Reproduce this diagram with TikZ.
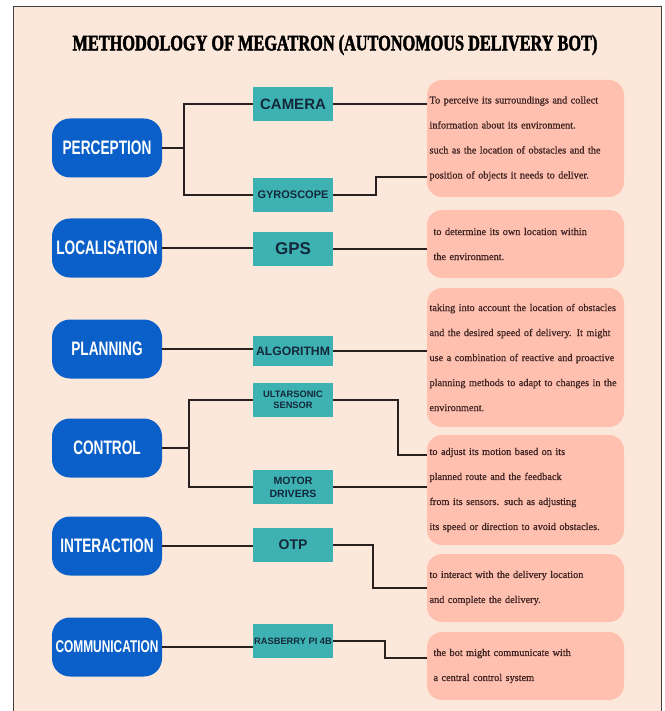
\documentclass[tikz,border=0pt]{standalone}
\usepackage{fontspec}
\setmainfont{Liberation Serif}
\newfontfamily\headfont[FakeStretch=0.74,FakeBold=2]{Liberation Serif}
\newfontfamily\notefont[FakeBold=0.6]{Liberation Serif}
\newfontfamily\stagefont[FakeStretch=0.7]{Liberation Sans}
\newfontfamily\partfont{Liberation Sans}
\usetikzlibrary{positioning}
\definecolor{peach}{HTML}{FCE8DA}
\definecolor{stageblue}{HTML}{0A60C8}
\definecolor{partteal}{HTML}{3EB2B2}
\definecolor{partink}{HTML}{13283A}
\definecolor{notepink}{HTML}{FFC0AF}
\definecolor{noteink}{HTML}{3D2222}
\definecolor{linkink}{HTML}{2A2020}
\tikzset{
  stage/.style={rectangle, rounded corners=18pt, fill=stageblue, text=white,
    minimum width=110pt, minimum height=59pt, inner sep=2pt,
    font=\stagefont\bfseries\fontsize{19.5}{19.5}\selectfont},
  part/.style={rectangle, fill=partteal, text=partink, minimum width=80pt,
    minimum height=34pt, inner sep=1pt, align=center, font=\partfont\bfseries},
  note/.style={rectangle, rounded corners=15pt, fill=notepink, text=noteink,
    text width=192pt, inner xsep=2.5pt, align=left,
    font=\notefont\fontsize{10.3}{25}\selectfont},
  link/.style={draw=linkink, line width=2pt}
}
\begin{document}
\begin{tikzpicture}[x=1pt,y=-1pt]
\useasboundingbox (0,0) rectangle (664,711);
\fill[white] (0,0) rectangle (664,711);
\fill[peach] (13,7) rectangle (661,711);
\draw[black!75, line width=1pt] (13,711) -- (13,7) -- (661,7) -- (661,711);

\node[font=\headfont\bfseries\fontsize{22}{22}\selectfont] (title) at (335,45)
  {METHODOLOGY OF MEGATRON (AUTONOMOUS DELIVERY BOT)};

\node[stage] (perc)  at (107,148) {PERCEPTION};
\node[stage] (loc)   at (107,248) {LOCALISATION};
\node[stage] (plan)  at (107,349) {PLANNING};
\node[stage] (ctrl)  at (107,448) {CONTROL};
\node[stage] (inter) at (107,546) {INTERACTION};
\node[stage, font=\stagefont\bfseries\fontsize{17}{17}\selectfont] (comm) at (107,647) {COMMUNICATION};

\node[part, font=\partfont\bfseries\fontsize{15}{15}\selectfont] (cam) at (293,104) {CAMERA};
\node[part, font=\partfont\bfseries\fontsize{11}{11}\selectfont] (gyro) at (293,195) {GYROSCOPE};
\node[part, font=\partfont\bfseries\fontsize{17}{17}\selectfont] (gps) at (293,249) {GPS};
\node[part, minimum height=30pt, font=\partfont\bfseries\fontsize{12.2}{12.2}\selectfont] (algo) at (293,351) {ALGORITHM};
\node[part, font=\partfont\bfseries\fontsize{9.3}{11.5}\selectfont] (ultra) at (293,400) {ULTARSONIC\\SENSOR};
\node[part, font=\partfont\bfseries\fontsize{10.5}{13}\selectfont] (motor) at (293,487) {MOTOR\\DRIVERS};
\node[part, font=\partfont\bfseries\fontsize{14}{14}\selectfont] (otp) at (293,545) {OTP};
\node[part, font=\partfont\bfseries\fontsize{9.3}{9.3}\selectfont] (rpi) at (293,641) {RASBERRY PI 4B};

\node[note, minimum height=117pt] (n1) at (525.5,138.5)
  {To perceive its surroundings and collect\\ information about its environment.\\
   such as the location of obstacles and the\\ position of objects it needs to deliver.};
\node[note, minimum height=68pt] (n2) at (525.5,244)
  {\hspace*{4pt}to determine its own location within\\ \hspace*{4pt}the environment.};
\node[note, minimum height=139pt] (n3) at (525.5,357.5)
  {taking into account the location of obstacles\\ and the desired speed of delivery. It might\\
   use a combination of reactive and proactive\\ planning methods to adapt to changes in the\\ environment.};
\node[note, minimum height=110pt] (n4) at (525.5,490)
  {to adjust its motion based on its\\ planned route and the feedback\\
   from its sensors. such as adjusting\\ its speed or direction to avoid obstacles.};
\node[note, minimum height=68pt] (n5) at (525.5,588)
  {to interact with the delivery location\\ and complete the delivery.};
\node[note, minimum height=68pt] (n6) at (525.5,666)
  {\hspace*{4pt}the bot might communicate with\\ \hspace*{4pt}a central control system};

\draw[link] (perc.east) -- ++(22,0) coordinate (percfork);
\draw[link] (cam.west) -| (percfork) |- (gyro.west);
\draw[link] (cam.east) -- (cam.east -| n1.west);
\draw[link] (gyro.east) -- ++(43,0) |- ([yshift=-38.5pt]n1.west);
\draw[link] (loc.east) -- (loc.east -| gps.west);
\draw[link] (gps.east) -- (gps.east -| n2.west);
\draw[link] (plan.east) -- (plan.east -| algo.west);
\draw[link] (algo.east) -- (algo.east -| n3.west);
\draw[link] (ctrl.east) -- ++(27,0) coordinate (ctrlfork);
\draw[link] (ultra.west) -| (ctrlfork) |- (motor.west);
\draw[link] (ultra.east) -- ++(65,0) |- ([yshift=35pt]n4.west);
\draw[link] (motor.east) -- (motor.east -| n4.west);
\draw[link] (inter.east) -- (inter.east -| otp.west);
\draw[link] (otp.east) -- ++(40,0) |- (n5.west);
\draw[link] (comm.east) -- (comm.east -| rpi.west);
\draw[link] (rpi.east) -- ++(52,0) |- ([yshift=8pt]n6.west);
\end{tikzpicture}
\end{document}
